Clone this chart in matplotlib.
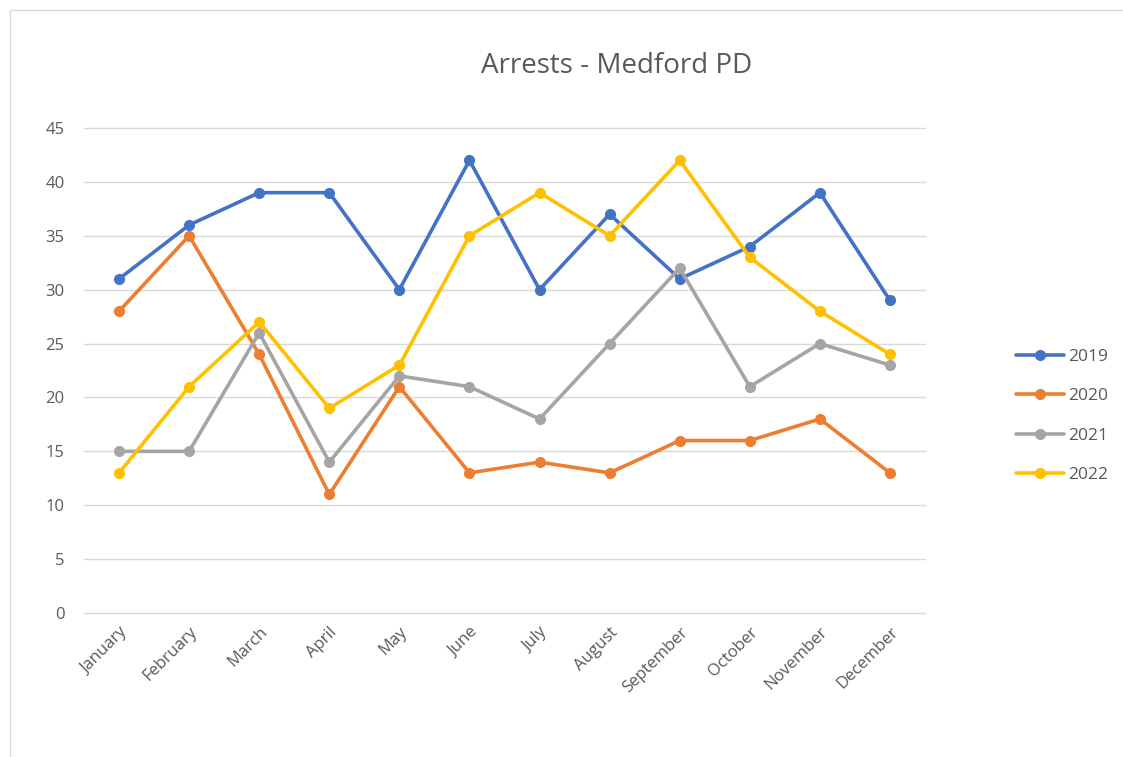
import matplotlib.pyplot as plt
from matplotlib.patches import Rectangle

months = ["January", "February", "March", "April", "May", "June", "July",
          "August", "September", "October", "November", "December"]
years = ["2019", "2020", "2021", "2022"]
arrests_2019 = [31, 36, 39, 39, 30, 42, 30, 37, 31, 34, 39, 29]
arrests_2020 = [28, 35, 24, 11, 21, 13, 14, 13, 16, 16, 18, 13]
arrests_2021 = [15, 15, 26, 14, 22, 21, 18, 25, 32, 21, 25, 23]
arrests_2022 = [13, 21, 27, 19, 23, 35, 39, 35, 42, 33, 28, 24]
colors = ["#4472C4", "#ED7D31", "#A5A5A5", "#FFC000"]

plt.rcParams['font.family'] = ['Open Sans', 'DejaVu Sans']

W, H = 1123, 757
fig = plt.figure(figsize=(W / 100, H / 100), dpi=100)

# chart-area border
fig.patches.append(Rectangle((10 / W, -0.01), 1.2, 1 - 10 / H + 0.01,
                             transform=fig.transFigure, fill=False,
                             edgecolor="#D9D9D9", lw=1))

ax = fig.add_axes([84 / W, (H - 613) / H, 841 / W, 485 / H])
x = range(len(months))
series = [arrests_2019, arrests_2020, arrests_2021, arrests_2022]
for year, vals, c in zip(years, series, colors):
    ax.plot(x, vals, color=c, lw=2.6, marker="o", markersize=7,
            solid_capstyle="round", label=year)

ax.set_xlim(-0.5, len(months) - 0.5)
ax.set_ylim(0, 45)
ax.set_yticks(range(0, 46, 5))
ax.set_xticks(list(x))
ax.set_xticklabels(months, rotation=45, ha="right", rotation_mode="anchor")
ax.grid(axis="y", color="#D9D9D9", lw=1)
for gl in ax.get_ygridlines():
    gl.set_clip_on(False)
ax.set_axisbelow(True)
for s in ax.spines.values():
    s.set_visible(False)
ax.tick_params(length=0, colors="#595959")
ax.tick_params(axis="y", labelsize=12, pad=14)
ax.tick_params(axis="x", labelsize=12, pad=8)

fig.text(617 / W, 1 - 66 / H, "Arrests - Medford PD", ha="center",
         va="center", fontsize=20, color="#595959")

fig.legend(loc="center left", bbox_to_anchor=(1000 / W, 1 - 416 / H),
           frameon=False, fontsize=12.5, labelcolor="#595959",
           handlelength=2.8, handletextpad=0.2, labelspacing=1.35)

fig.savefig("out.png", dpi=100)
